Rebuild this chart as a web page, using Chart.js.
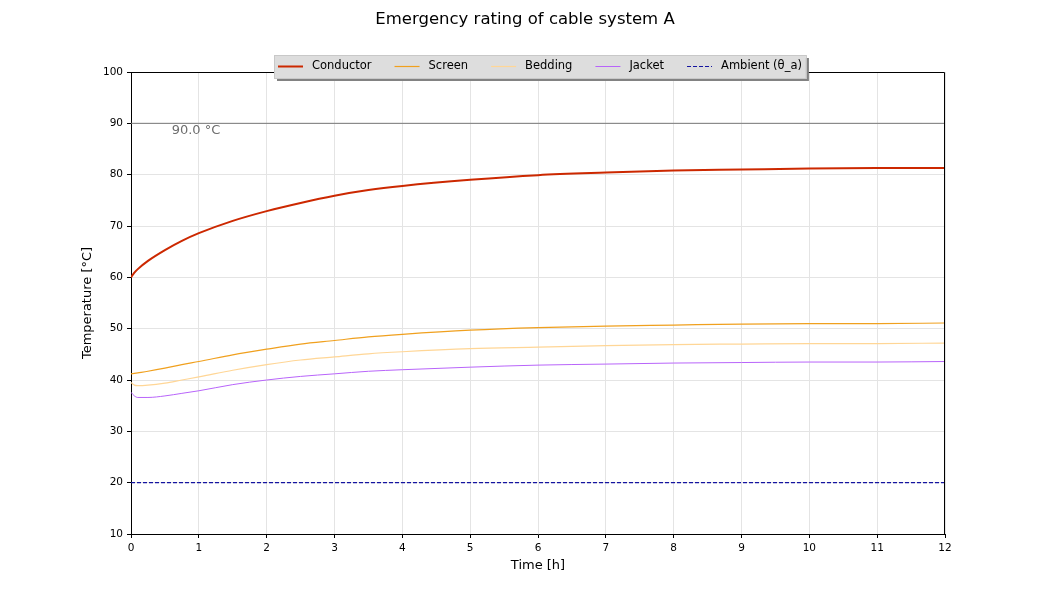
<!DOCTYPE html>
<html>
<head>
<meta charset="utf-8">
<script src="https://cdn.jsdelivr.net/npm/chart.js@4"></script>
<style>
  html, body { margin: 0; padding: 0; background: #fff; }
  #wrap { width: 1050px; height: 600px; }
</style>
</head>
<body>
<div id="wrap"><canvas id="chart" width="1050" height="600"></canvas></div>
<script>
// time [h] and temperatures [°C]
var hours     = [0, 0.05, 0.1, 0.25, 0.5, 0.75, 1, 1.5, 2, 2.5, 3, 3.5, 4, 5, 6, 7, 8, 9, 10, 11, 12];
var conductor = [60, 60.9, 61.6, 63.2, 65.3, 67.1, 68.6, 71.0, 72.9, 74.5, 75.9, 77.0, 77.8, 79.0, 79.9, 80.4, 80.8, 81.0, 81.2, 81.3, 81.3];
var screen    = [41.2, 41.3, 41.4, 41.7, 42.3, 43.0, 43.6, 44.9, 46.0, 47.0, 47.7, 48.4, 48.9, 49.7, 50.2, 50.5, 50.7, 50.9, 51.0, 51.0, 51.1];
var bedding   = [39.5, 39.0, 38.9, 39.0, 39.4, 40.0, 40.6, 41.9, 43.0, 43.9, 44.5, 45.1, 45.5, 46.1, 46.4, 46.7, 46.9, 47.0, 47.1, 47.1, 47.2];
var jacket    = [37.6, 36.9, 36.6, 36.6, 36.9, 37.4, 37.9, 39.1, 40.0, 40.7, 41.2, 41.7, 42.0, 42.5, 42.9, 43.1, 43.3, 43.4, 43.5, 43.5, 43.6];
var ambient   = 20;
var limit     = 90;
var xTicks    = [0, 1, 2, 3, 4, 5, 6, 7, 8, 9, 10, 11, 12];
var yTicks    = [10, 20, 30, 40, 50, 60, 70, 80, 90, 100];

var FONT = "'DejaVu Sans', sans-serif";

function points(ys) {
    return hours.map(function (h, i) { return { x: h, y: ys[i] }; });
}
function flat(v) {
    return [{ x: hours[0], y: v }, { x: hours[hours.length - 1], y: v }];
}

function lineSet(label, data, color, width, dash) {
    return {
        label: label,
        data: data,
        borderColor: color,
        backgroundColor: color,
        borderWidth: width,
        borderDash: dash || [],
        pointRadius: 0,
        cubicInterpolationMode: 'monotone',
        fill: false
    };
}

var datasets = [
    lineSet('Conductor', points(conductor), 'rgb(204,40,0)', 2),
    lineSet('Screen', points(screen), 'rgb(240,160,30)', 1.2),
    lineSet('Bedding', points(bedding), 'rgb(255,214,150)', 1.2),
    lineSet('Jacket', points(jacket), 'rgb(184,100,250)', 1),
    lineSet('Ambient (θ_a)', flat(ambient), 'rgb(20,20,160)', 1.2, [4, 2]),
    lineSet('limit', flat(limit), 'rgb(120,120,120)', 1)
];

// title, axis titles, frame, limit label and boxed legend
var decor = {
    id: 'decor',
    afterDraw: function (chart) {
        var ctx = chart.ctx, a = chart.chartArea;
        var xs = chart.scales.x, ys = chart.scales.y;
        ctx.save();
        ctx.strokeStyle = '#000';
        ctx.lineWidth = 1;
        ctx.beginPath();
        ctx.moveTo(a.left, a.top + 0.5);
        ctx.lineTo(a.right - 0.5, a.top + 0.5);
        ctx.lineTo(a.right - 0.5, a.bottom);
        ctx.stroke();

        ctx.fillStyle = '#000';
        ctx.textAlign = 'center';
        ctx.textBaseline = 'middle';
        ctx.font = '16.5px ' + FONT;
        ctx.fillText('Emergency rating of cable system A', 525, 20);
        ctx.font = '13px ' + FONT;
        ctx.fillText('Time [h]', (a.left + a.right) / 2, 566);
        ctx.save();
        ctx.translate(88, (a.top + a.bottom) / 2);
        ctx.rotate(-Math.PI / 2);
        ctx.fillText('Temperature [°C]', 0, 0);
        ctx.restore();

        ctx.fillStyle = 'rgb(110,110,110)';
        ctx.textAlign = 'left';
        ctx.font = '13px ' + FONT;
        ctx.fillText(limit.toFixed(1) + ' °C', xs.getPixelForValue(0.6), ys.getPixelForValue(limit) + 7);

        // legend
        var items = chart.data.datasets.slice(0, 5);
        ctx.font = '11.5px ' + FONT;
        var sw = 25, gap = 9, sep = 23, pad = 4;
        var total = pad * 2;
        items.forEach(function (d, i) {
            total += sw + gap + ctx.measureText(d.label).width + (i < items.length - 1 ? sep : 0);
        });
        var bx = Math.round(539.5 - total / 2), by = 55, bh = 23;
        ctx.fillStyle = 'rgb(130,130,130)';
        ctx.fillRect(bx + 3, by + 3, total, bh);
        ctx.fillStyle = 'rgb(221,221,221)';
        ctx.fillRect(bx, by, total, bh);
        ctx.strokeStyle = 'rgb(200,200,200)';
        ctx.strokeRect(bx + 0.5, by + 0.5, total, bh);
        var x = bx + pad, cy = by + bh / 2;
        items.forEach(function (d) {
            ctx.strokeStyle = d.borderColor;
            ctx.lineWidth = d.borderWidth;
            ctx.setLineDash(d.borderDash);
            ctx.beginPath();
            ctx.moveTo(x, cy);
            ctx.lineTo(x + sw, cy);
            ctx.stroke();
            ctx.setLineDash([]);
            x += sw + gap;
            ctx.fillStyle = '#000';
            ctx.fillText(d.label, x, cy);
            x += ctx.measureText(d.label).width + sep;
        });
        ctx.restore();
    }
};

var tickFont = { family: FONT, size: 10.5 };

new Chart(document.getElementById('chart').getContext('2d'), {
    type: 'line',
    data: { datasets: datasets },
    options: {
        responsive: false,
        animation: false,
        layout: { padding: { left: 0, right: 105, top: 72, bottom: 0 } },
        plugins: {
            legend: { display: false },
            title: { display: false },
            tooltip: { enabled: false }
        },
        scales: {
            x: {
                type: 'linear',
                min: 0,
                max: 12,
                afterBuildTicks: function (s) { s.ticks = xTicks.map(function (v) { return { value: v }; }); },
                afterFit: function (s) { s.height = 66; },
                ticks: { font: tickFont, color: '#000', padding: 4, maxRotation: 0 },
                grid: { color: 'rgb(228,228,228)', tickColor: '#000', tickLength: 4 },
                border: { color: '#000' }
            },
            y: {
                min: 10,
                max: 100,
                afterBuildTicks: function (s) { s.ticks = yTicks.map(function (v) { return { value: v }; }); },
                afterFit: function (s) { s.width = 131; },
                ticks: { font: tickFont, color: '#000', padding: 4 },
                grid: { color: 'rgb(228,228,228)', tickColor: '#000', tickLength: 4 },
                border: { color: '#000' }
            }
        }
    },
    plugins: [decor]
});
</script>
</body>
</html>
